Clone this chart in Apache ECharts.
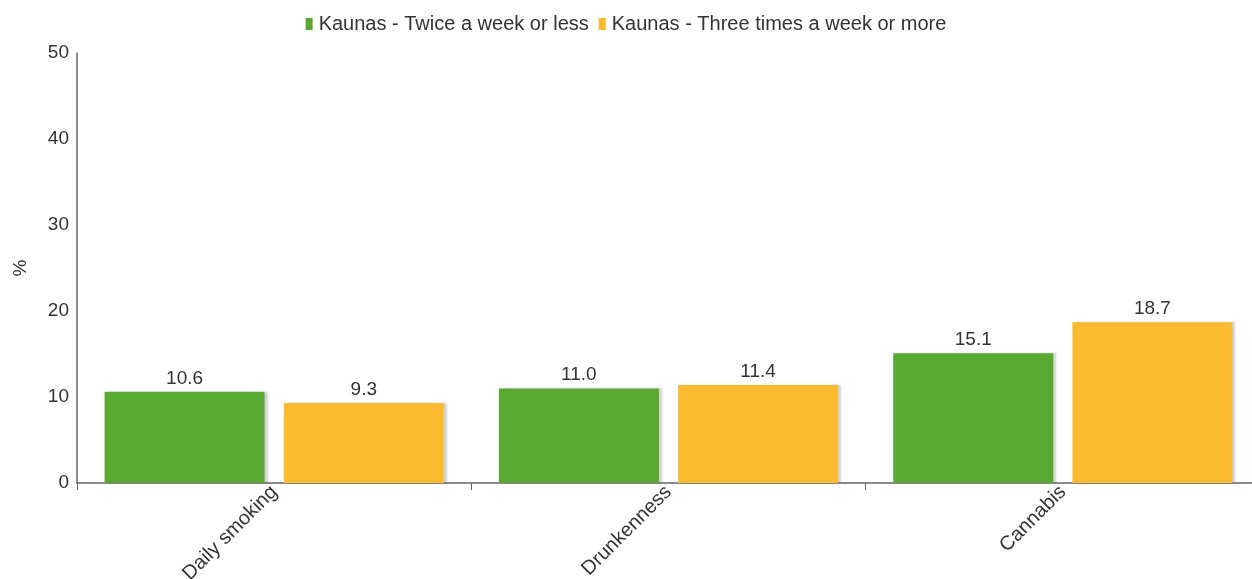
<!DOCTYPE html>
<html>
<head>
<meta charset="utf-8">
<script src="https://cdn.jsdelivr.net/npm/echarts@6/dist/echarts.min.js"></script>
<style>
    html, body { margin: 0; padding: 0; background: #fff; }
    #chart { width: 1252px; height: 579px; }
</style>
</head>
<body>
<div id="chart"></div>
<script>
    // data
    var categories = ['Daily smoking', 'Drunkenness', 'Cannabis'];
    var twiceOrLess = [10.6, 11.0, 15.1];
    var threeOrMore = [9.3, 11.4, 18.7];
    var seriesNames = ['Kaunas - Twice a week or less', 'Kaunas - Three times a week or more'];

    var myChart = echarts.init(document.getElementById('chart'));
    var font = 'Liberation Sans, Arial, sans-serif';
    var barShadow = {
        shadowColor: 'rgba(0,0,0,0.18)',
        shadowOffsetX: 3,
        shadowOffsetY: 0,
        shadowBlur: 2
    };
    var labelCfg = {
        show: true,
        position: 'top',
        distance: 4,
        color: '#333',
        fontSize: 19,
        fontFamily: font,
        formatter: function (p) { return p.value.toFixed(1); }
    };

    var option = {
        animation: false,
        textStyle: { fontFamily: font },
        legend: {
            top: 9,
            left: 'center',
            itemWidth: 7,
            itemHeight: 12,
            itemGap: 10,
            icon: 'rect',
            textStyle: { fontSize: 20, color: '#333', fontFamily: font, padding: [0, 0, 0, 1] },
            data: seriesNames
        },
        grid: {
            left: 77,
            top: 53,
            bottom: 96,
            width: 1183,
            containLabel: false,
            outerBoundsMode: 'none'
        },
        xAxis: {
            type: 'category',
            data: categories,
            axisLine: { lineStyle: { color: '#666', width: 1.5 } },
            axisTick: { show: true, length: 7, lineStyle: { color: '#666' } },
            axisLabel: {
                rotate: 45,
                fontSize: 20,
                color: '#333',
                fontFamily: font,
                margin: 6,
                padding: [0, 0, 0, 0]
            }
        },
        yAxis: {
            type: 'value',
            min: 0,
            max: 50,
            interval: 10,
            name: '%',
            nameLocation: 'middle',
            nameGap: 47,
            nameRotate: 90,
            nameTextStyle: { fontSize: 19, color: '#333', fontFamily: font },
            axisLine: { show: true, lineStyle: { color: '#666', width: 1.5 } },
            axisTick: { show: false },
            splitLine: { show: false },
            axisLabel: { fontSize: 19, color: '#333', fontFamily: font, margin: 8 }
        },
        series: [
            {
                name: seriesNames[0],
                type: 'bar',
                data: twiceOrLess,
                barWidth: 160,
                barGap: '12%',
                itemStyle: Object.assign({ color: '#59a932' }, barShadow),
                label: labelCfg
            },
            {
                name: seriesNames[1],
                type: 'bar',
                data: threeOrMore,
                barWidth: 160,
                itemStyle: Object.assign({ color: '#fbbb30' }, barShadow),
                label: labelCfg
            }
        ]
    };

    myChart.setOption(option);
</script>
</body>
</html>
